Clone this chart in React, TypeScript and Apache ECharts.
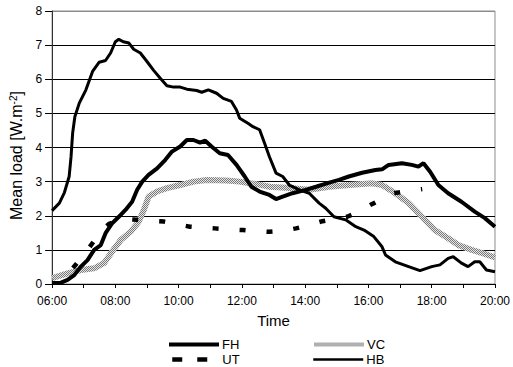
import React, { useEffect, useRef } from "react";
import * as echarts from "echarts";

// Hour of day (decimal) and mean load [W.m-2] for each group
const fhHour = [6.0, 6.28, 6.49, 6.7, 6.91, 7.12, 7.33, 7.54, 7.69, 7.9, 8.11, 8.32, 8.53, 8.69, 8.85, 9.05, 9.32, 9.58, 9.79, 10.05, 10.26, 10.47, 10.68, 10.84, 11.04, 11.3, 11.56, 11.83, 12.09, 12.3, 12.56, 12.87, 13.08, 13.29, 13.6, 14.02, 14.34, 14.76, 15.07, 15.38, 15.8, 16.22, 16.43, 16.64, 17.06, 17.37, 17.58, 17.74, 17.95, 18.21, 18.52, 18.94, 19.36, 19.68, 20.0];
const fhLoad = [0.03, 0.04, 0.12, 0.26, 0.51, 0.7, 1.0, 1.14, 1.49, 1.78, 1.97, 2.17, 2.41, 2.76, 3.0, 3.2, 3.39, 3.64, 3.88, 4.03, 4.22, 4.22, 4.14, 4.2, 4.03, 3.83, 3.78, 3.49, 3.15, 2.85, 2.71, 2.61, 2.49, 2.56, 2.66, 2.76, 2.85, 2.97, 3.05, 3.15, 3.26, 3.34, 3.36, 3.49, 3.54, 3.49, 3.44, 3.54, 3.29, 2.9, 2.66, 2.41, 2.12, 1.93, 1.68];

const utHour = [6.66, 7.0, 7.31, 7.55, 7.8, 8.1, 8.4, 8.69, 9.1, 9.53, 9.95, 10.36, 10.75, 11.15, 11.6, 12.04, 12.45, 12.87, 13.3, 13.71, 14.1, 14.5, 14.9, 15.33, 15.7, 16.07, 16.45, 16.8, 17.2, 17.7];
const utLoad = [0.47, 0.85, 1.24, 1.55, 1.76, 1.86, 1.9, 1.88, 1.85, 1.83, 1.75, 1.68, 1.65, 1.63, 1.6, 1.58, 1.55, 1.53, 1.56, 1.63, 1.72, 1.83, 1.9, 1.97, 2.12, 2.32, 2.5, 2.66, 2.72, 2.78];

const vcHour = [6.0, 6.49, 6.91, 7.33, 7.64, 7.9, 8.17, 8.48, 8.74, 8.9, 9.05, 9.32, 9.63, 10.05, 10.47, 10.89, 11.52, 11.93, 12.25, 12.51, 12.87, 13.5, 14.13, 14.76, 15.38, 16.12, 16.43, 16.85, 17.27, 17.69, 18.1, 18.52, 18.84, 19.26, 19.68, 20.0];
const vcLoad = [0.17, 0.31, 0.41, 0.46, 0.61, 0.95, 1.29, 1.53, 1.83, 2.17, 2.56, 2.71, 2.81, 2.9, 3.0, 3.05, 3.03, 3.0, 2.95, 2.92, 2.85, 2.81, 2.76, 2.85, 2.9, 2.95, 2.9, 2.66, 2.37, 1.97, 1.58, 1.34, 1.14, 1.0, 0.88, 0.78];

const hbHour = [6.0, 6.23, 6.39, 6.54, 6.6, 6.65, 6.72, 6.86, 7.07, 7.28, 7.49, 7.69, 7.85, 8.0, 8.11, 8.25, 8.43, 8.58, 8.79, 9.0, 9.21, 9.42, 9.63, 9.84, 10.05, 10.26, 10.57, 10.73, 10.94, 11.2, 11.41, 11.67, 11.83, 11.93, 12.19, 12.35, 12.56, 12.72, 12.87, 13.08, 13.29, 13.5, 13.82, 14.13, 14.44, 14.65, 14.91, 15.28, 15.6, 15.86, 16.17, 16.43, 16.54, 16.85, 17.27, 17.63, 18.0, 18.26, 18.52, 18.68, 18.94, 19.15, 19.36, 19.52, 19.73, 20.0];
const hbLoad = [2.15, 2.37, 2.68, 3.15, 3.73, 4.42, 4.9, 5.3, 5.69, 6.23, 6.5, 6.55, 6.77, 7.1, 7.17, 7.1, 7.06, 6.88, 6.77, 6.52, 6.26, 6.03, 5.81, 5.77, 5.77, 5.71, 5.67, 5.62, 5.69, 5.59, 5.44, 5.35, 5.1, 4.86, 4.71, 4.61, 4.52, 4.12, 3.73, 3.25, 3.15, 2.9, 2.76, 2.66, 2.37, 2.22, 1.97, 1.88, 1.68, 1.58, 1.39, 1.09, 0.85, 0.65, 0.51, 0.39, 0.51, 0.56, 0.75, 0.8, 0.61, 0.51, 0.65, 0.65, 0.41, 0.36];

const FONT = "Liberation Sans, Arial, sans-serif";

const pairs = (xs: number[], ys: number[]) => xs.map((x, i) => [x, ys[i]]);

// Small checkered tile used to stroke the VC band
function checkerTile(): string {
  const c = document.createElement("canvas");
  c.width = 2;
  c.height = 2;
  const ctx = c.getContext("2d")!;
  ctx.fillStyle = "#e6e6e6";
  ctx.fillRect(0, 0, 2, 2);
  ctx.fillStyle = "#7a7a7a";
  ctx.fillRect(0, 0, 1, 1);
  ctx.fillRect(1, 1, 1, 1);
  return c.toDataURL();
}

export default function App() {
  const ref = useRef<HTMLDivElement>(null);

  useEffect(() => {
    if (!ref.current) return;
    const chart = echarts.init(ref.current, undefined, { renderer: "svg" });
    const pattern = { image: checkerTile(), repeat: "repeat" };

    // one legend block per entry, laid out in two columns of two rows
    const legendEntry = (item: any, left: number, top: number) => ({
      data: [item],
      left,
      top,
      itemWidth: 50,
      itemHeight: 12,
      padding: 0,
      itemStyle: { opacity: 0 },
      textStyle: {
        fontFamily: FONT,
        fontSize: 13,
        lineHeight: 12,
        color: "#000",
        padding: [0, 0, 0, -2],
      },
    });

    chart.setOption({
      animation: false,
      backgroundColor: "#fff",
      grid: {
        left: 51,
        right: 16,
        top: 11,
        bottom: 83,
        show: true,
        borderColor: "#8c8c8c",
        borderWidth: 1,
      },
      legend: [
        legendEntry({ name: "FH", lineStyle: { width: 4 } }, 167, 338),
        legendEntry({ name: "UT", lineStyle: { width: 4.5, type: [10, 15], dashOffset: 22 } }, 167, 353),
        legendEntry({ name: "VC", lineStyle: { width: 4 } }, 312, 338),
        legendEntry({ name: "HB", lineStyle: { width: 2.5 } }, 312, 353),
      ],
      xAxis: {
        type: "value",
        min: 6,
        max: 20,
        interval: 1,
        name: "Time",
        nameLocation: "middle",
        nameGap: 29,
        nameTextStyle: { fontFamily: FONT, fontSize: 15, color: "#000" },
        axisLine: { lineStyle: { color: "#000", width: 1 } },
        axisTick: { show: true, length: 4, lineStyle: { color: "#000" } },
        axisLabel: {
          fontFamily: FONT,
          fontSize: 12,
          color: "#000",
          margin: 11,
          formatter: (v: number) =>
            v % 2 === 0 ? `${String(v).padStart(2, "0")}:00` : "",
        },
        splitLine: { show: false },
      },
      yAxis: {
        type: "value",
        min: 0,
        max: 8,
        interval: 1,
        name: "Mean load [W.m{sup|-2}]",
        nameLocation: "middle",
        nameGap: 21,
        nameTextStyle: {
          fontFamily: FONT,
          fontSize: 16,
          color: "#000",
          padding: [0, 16, 0, 0],
          rich: {
            sup: { fontFamily: FONT, fontSize: 10, color: "#000", verticalAlign: "top", padding: [0, 0, 7, 0] },
          },
        },
        axisLine: { show: true, lineStyle: { color: "#333", width: 1 } },
        axisTick: { show: true, length: 7, lineStyle: { color: "#000" } },
        axisLabel: { fontFamily: FONT, fontSize: 12, color: "#000", margin: 10 },
        splitLine: {
          show: true,
          lineStyle: {
            color: ["#000", "#000", "#000", "#000", "#000", "#000", "#000", "#000", "#8c8c8c"],
            width: 1,
          },
        },
      },
      series: [
        {
          name: "FH",
          type: "line",
          data: pairs(fhHour, fhLoad),
          symbol: "none",
          z: 4,
          lineStyle: { color: "#000", width: 4 },
          itemStyle: { color: "#000" },
        },
        {
          name: "UT",
          type: "line",
          data: pairs(utHour, utLoad),
          symbol: "none",
          z: 3,
          lineStyle: { color: "#000", width: 4.5, type: [6, 21] },
          itemStyle: { color: "#000" },
        },
        {
          name: "VC",
          type: "line",
          data: pairs(vcHour, vcLoad),
          symbol: "none",
          z: 2,
          lineStyle: { color: pattern, width: 6 },
          itemStyle: { color: "#aaa" },
        },
        {
          name: "HB",
          type: "line",
          data: pairs(hbHour, hbLoad),
          symbol: "none",
          z: 5,
          lineStyle: { color: "#000", width: 3 },
          itemStyle: { color: "#000" },
        },
      ],
    });

    return () => chart.dispose();
  }, []);

  return <div ref={ref} style={{ width: 513, height: 367, position: "absolute", left: 0, top: 0 }} />;
}
